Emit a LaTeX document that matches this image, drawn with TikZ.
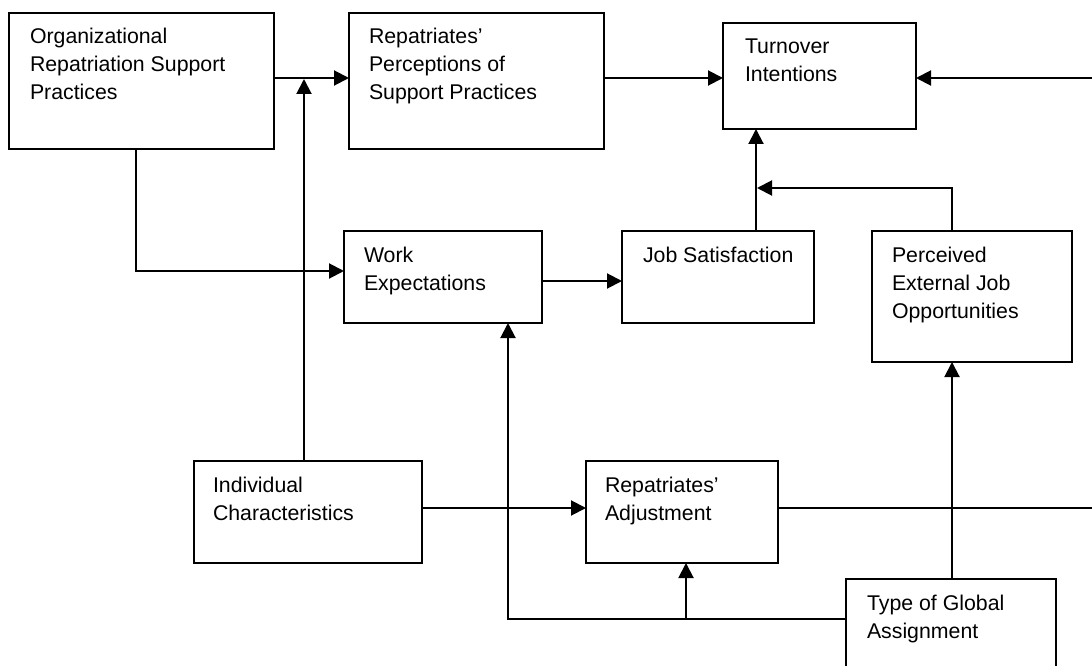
\documentclass[tikz,border=0pt]{standalone}
\usepackage{fontspec}
\setmainfont{Liberation Sans}
\usetikzlibrary{arrows.meta}
% #1 width, #2 height, #3 left pad, #4 text
\newcommand\bxtext[4]{%
  \parbox[c][#2pt][t]{#1pt}{\fontsize{21.3}{28}\selectfont\raggedright\leftskip=#3pt\relax\rule{0pt}{31pt}#4}}
\begin{document}
\begin{tikzpicture}[x=1pt,y=-1pt,
  box/.style={draw, line width=1.6pt, inner sep=0pt, outer sep=0pt, anchor=north west},
  arr/.style={line width=2pt, -{Triangle[length=15pt,width=15pt]}},
  plain/.style={line width=1.5pt}]
\useasboundingbox (0,0) rectangle (1092,666);
\clip (0,0) rectangle (1092,666);
\fill[white] (0,0) rectangle (1092,666);

\node[box] (org)  at (9,13)    {\bxtext{265}{136}{21}{Organizational\\Repatriation Support\\Practices}};
\node[box] (perc) at (349,13)  {\bxtext{255}{136}{20}{Repatriates’\\Perceptions of\\Support Practices}};
\node[box] (turn) at (723,23)  {\bxtext{193}{106}{22}{Turnover\\Intentions}};
\node[box] (we)   at (344,231) {\bxtext{198}{92}{20}{Work\\Expectations}};
\node[box] (js)   at (622,231) {\bxtext{192}{92}{21}{Job Satisfaction}};
\node[box] (pejo) at (872,231) {\bxtext{200}{131}{20}{Perceived\\External Job\\Opportunities}};
\node[box] (ind)  at (194,461) {\bxtext{228}{102}{19}{Individual\\Characteristics}};
\node[box] (ra)   at (586,461) {\bxtext{192}{102}{19}{Repatriates’\\Adjustment}};
\node[box] (tga)  at (846,579) {\bxtext{210}{120}{21}{Type of Global\\Assignment}};

\coordinate (rtop) at (1092,78);
\coordinate (rbot) at (1092,508);
\coordinate (j1) at (304,79);
\coordinate (j2) at (686,619);
\coordinate (j3) at (757,188);

\draw[arr] (org.east |- 0,78) -- (perc.west |- 0,78);
\draw[arr] (perc.east |- 0,78) -- (turn.west |- 0,78);
\draw[arr] (rtop) -- (turn.east |- rtop);
\draw[arr] (ind.north -| j1) -- (j1);
\draw[arr] (js.north -| 756,0) -- (turn.south -| 756,0);
\draw[arr] (pejo.north -| 952,0) |- (j3);
\draw[arr] (org.south -| 136,0) |- (we.west |- 0,271);
\draw[arr] (we.east |- 0,281) -- (js.west |- 0,281);
\draw[arr] (ind.east |- 0,508) -- (ra.west |- 0,508);
\draw[plain] (ra.east |- rbot) -- (rbot);
\draw[arr] (tga.north -| 952,0) -- (pejo.south -| 952,0);
\draw[plain] (tga.west |- j2) -- (j2);
\draw[arr] (j2) -| (we.south -| 508,0);
\draw[arr] (j2) -- (ra.south -| j2);
\end{tikzpicture}
\end{document}
